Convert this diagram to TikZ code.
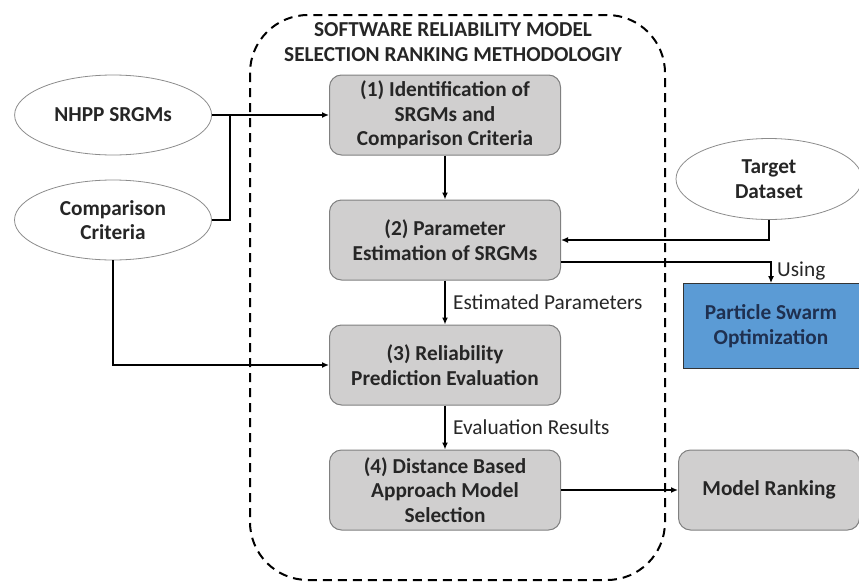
\documentclass[tikz,border=0pt]{standalone}
\usepackage{fontspec}
\setmainfont{Carlito}
\usetikzlibrary{shapes.geometric,arrows.meta,positioning}
\definecolor{boxgray}{HTML}{D0CFCF}
\definecolor{psoblue}{HTML}{5B9BD5}
\definecolor{psotext}{HTML}{1F3050}

\begin{document}
\begin{tikzpicture}[
  x=1pt, y=-1pt,
  node distance = 44pt and 117pt,
  every node/.style = {font=\fontsize{21.3}{24.5}\selectfont\bfseries, text=black!85},
  block/.style = {rectangle, rounded corners=12pt, draw=black!50, fill=boxgray,
    line width=1pt, minimum width=231pt, minimum height=80pt, align=center},
  ell/.style = {ellipse, draw=black!45, fill=white, line width=0.8pt,
    minimum width=197pt, minimum height=80pt, inner sep=0pt, align=center},
  pso/.style = {rectangle, draw=black!80, fill=psoblue, line width=0.8pt,
    minimum width=176pt, minimum height=85pt, align=center, text=psotext},
  frame/.style = {dash pattern=on 9pt off 6pt, line width=2pt, rounded corners=58pt},
  arr/.style = {-{Latex[length=7pt,width=6pt]}, line width=1.8pt},
  conn/.style = {line width=1.8pt},
  lbl/.style = {font=\fontsize{21.3}{24.5}\selectfont, text=black!85}
]
\useasboundingbox (0,0) rectangle (859,581);

% dashed frame round the methodology
\draw[frame] (250,15) rectangle (665,580);
\node[align=center] (title) at (453,42) {SOFTWARE RELIABILITY MODEL\\SELECTION RANKING METHODOLOGIY};

% methodology steps
\node[block] (idf) at (445,115) {(1) Identification of\\SRGMs and\\Comparison Criteria};
\node[block, below=of idf] (est) {(2) Parameter\\Estimation of SRGMs};
\node[block, below=of est] (eval) {(3) Reliability\\Prediction Evaluation};
\node[block, below=of eval] (sel) {(4) Distance Based\\Approach Model\\Selection};
\node[block, right=of sel, minimum width=181pt] (rank) {Model Ranking};

% inputs
\node[ell, left=of idf] (nhpp) {NHPP SRGMs};
\node[ell] (crit) at (113,220) {Comparison\\Criteria};
\node[ell, minimum width=186pt, minimum height=81pt] (target) at (769,179) {Target\\Dataset};
\node[pso] (swarm) at (771,326) {Particle Swarm\\Optimization};

\coordinate (jn) at ([xshift=18pt]nhpp.east);

\draw[arr] (nhpp) -- (idf);
\draw[conn] (crit.east) -| (jn);
\draw[arr] (crit.south) |- (eval.west);
\draw[arr] (idf) -- (est);
\draw[arr] (target.south) |- (est.east);
\draw[arr] ([yshift=-22pt]est.east) -| node[lbl, pos=0.72, right, xshift=2pt]{Using} (swarm.north);
\draw[arr] (est) -- node[lbl, right, xshift=4pt]{Estimated Parameters} (eval);
\draw[arr] (eval) -- node[lbl, right, xshift=4pt]{Evaluation Results} (sel);
\draw[arr] (sel) -- (rank);
\end{tikzpicture}
\end{document}
